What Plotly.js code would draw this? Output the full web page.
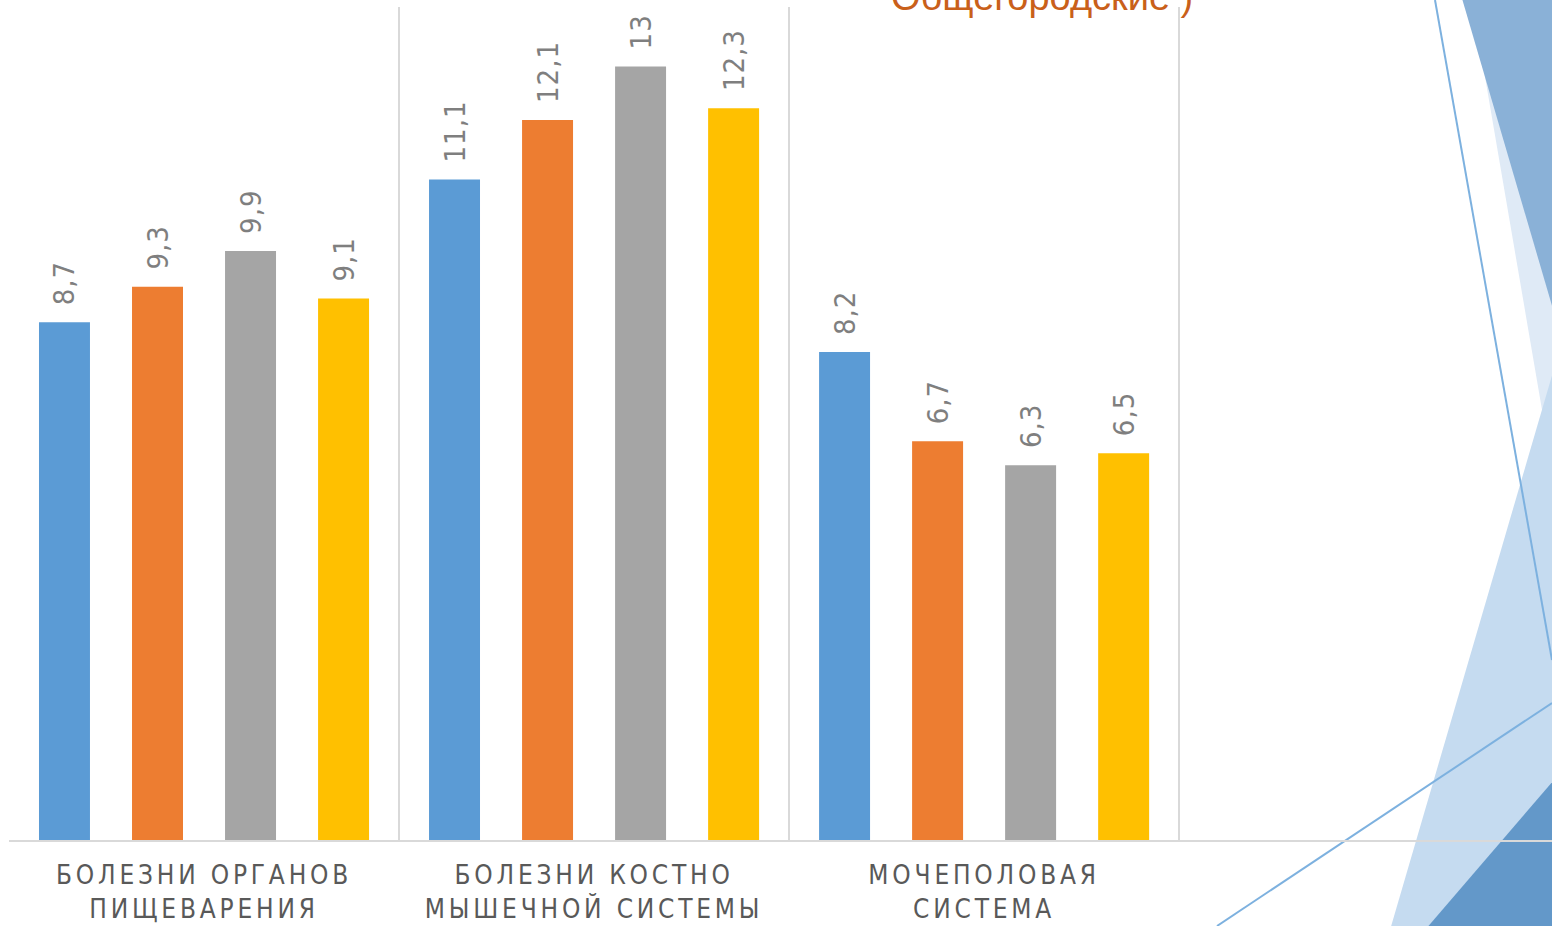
<!DOCTYPE html>
<html>
<head>
<meta charset="utf-8">
<script src="https://cdn.plot.ly/plotly-3.0.1.min.js"></script>
<style>
  html, body { margin: 0; padding: 0; background: #fff; }
  #chart { width: 1552px; height: 926px; }
  .xtick text { letter-spacing: 3.8px; }
  .bartext { letter-spacing: 1px; }
</style>
</head>
<body>
<div id="chart"></div>
<script>
// ---- data ----
const categories = [
  'БОЛЕЗНИ ОРГАНОВ<br>ПИЩЕВАРЕНИЯ',
  'БОЛЕЗНИ КОСТНО<br>МЫШЕЧНОЙ СИСТЕМЫ',
  'МОЧЕПОЛОВАЯ<br>СИСТЕМА'
];
const seriesNames = ['Ряд 1', 'Ряд 2', 'Ряд 3', 'Ряд 4'];
const series1 = [8.7, 11.1, 8.2];
const series2 = [9.3, 12.1, 6.7];
const series3 = [9.9, 13, 6.3];
const series4 = [9.1, 12.3, 6.5];
const titleText = 'Общегородские )';

// ---- styling ----
const colors = ['#5B9BD5', '#ED7D31', '#A5A5A5', '#FFC000'];
const fontFam = '"Liberation Sans Narrow", "DejaVu Sans Condensed", "Liberation Sans", sans-serif';
const W = 1552, H = 926, L = 9, R = 0, T = 7, B = 86;
const pw = W - L - R, ph = H - T - B;
const px = x => (x - L) / pw;
const py = y => (H - B - y) / ph;
const fmt = v => '\u2002' + String(v).replace('.', ',');

const allSeries = [series1, series2, series3, series4];
const traces = allSeries.map((vals, i) => ({
  type: 'bar',
  name: seriesNames[i],
  x: categories,
  y: vals,
  marker: { color: colors[i] },
  text: vals.map(fmt),
  textposition: 'outside',
  textangle: -90,
  constraintext: 'none',
  cliponaxis: false,
  textfont: { family: fontFam, size: 29, color: '#7F7F7F' },
  hoverinfo: 'skip'
}));

function poly(pts, color) {
  const d = pts.map((p, k) => (k ? 'L' : 'M') + px(p[0]) + ',' + py(p[1])).join(' ') + ' Z';
  return { type: 'path', xref: 'paper', yref: 'paper', path: d,
           fillcolor: color, line: { width: 0 }, layer: 'below' };
}
function seg(a, b, color) {
  return { type: 'line', xref: 'paper', yref: 'paper',
           x0: px(a[0]), y0: py(a[1]), x1: px(b[0]), y1: py(b[1]),
           line: { color: color, width: 2 }, layer: 'below' };
}

const shapes = [
  poly([[1471, -5], [1560, -5], [1560, 515]], '#DFEAF6'),
  poly([[1461, -5], [1560, -5], [1560, 333]], '#8AB1D7'),
  poly([[1560, 348], [1390, 930], [1560, 930]], '#C5DBF0'),
  poly([[1560, 773], [1425, 930], [1560, 930]], '#6398C9'),
  seg([1435, 0], [1552, 660], '#7DB1DF'),
  seg([1217, 926], [1552, 703], '#7DB1DF')
];

const layout = {
  width: W, height: H,
  margin: { l: L, r: R, t: T, b: B, pad: 0 },
  paper_bgcolor: '#FFFFFF',
  plot_bgcolor: 'rgba(0,0,0,0)',
  showlegend: false,
  barmode: 'group',
  bargap: 0.046,
  bargroupgap: 0.452,
  xaxis: {
    type: 'category',
    range: [-0.5, 3.456],
    tickson: 'boundaries',
    showgrid: true,
    gridcolor: '#D9D9D9',
    gridwidth: 1.5,
    showline: true,
    linecolor: '#D9D9D9',
    linewidth: 2,
    ticks: '',
    ticklabelstandoff: 11,
    tickfont: { family: fontFam, size: 26, color: '#595959' },
    fixedrange: true
  },
  yaxis: {
    range: [0, 14],
    showgrid: false,
    zeroline: false,
    showticklabels: false,
    showline: false,
    fixedrange: true
  },
  shapes: shapes,
  annotations: [{
    xref: 'paper', yref: 'paper',
    x: px(889), y: py(20),
    xanchor: 'left', yanchor: 'bottom',
    text: titleText,
    showarrow: false,
    font: { family: '"Liberation Sans", sans-serif', size: 38, color: '#C9601A' }
  }]
};

Plotly.newPlot('chart', traces, layout, { displayModeBar: false, staticPlot: true });
</script>
</body>
</html>
